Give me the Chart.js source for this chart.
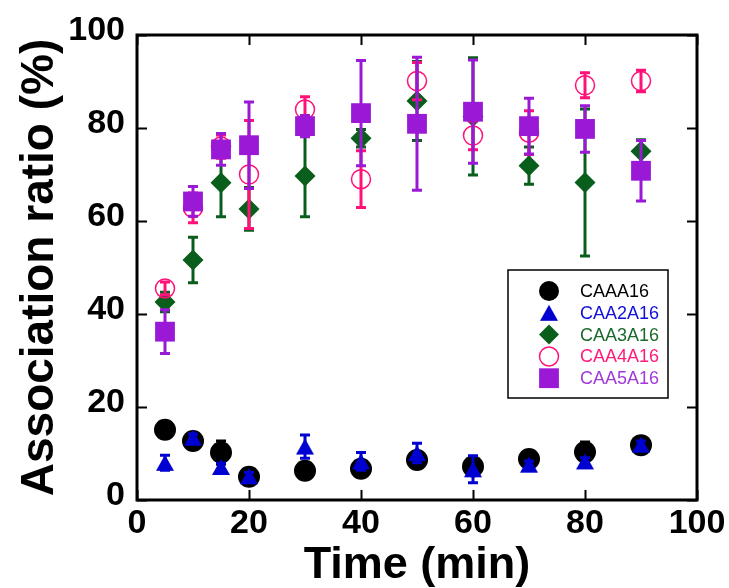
<!DOCTYPE html>
<html>
<head>
<meta charset="utf-8">
<script src="https://cdn.jsdelivr.net/npm/chart.js@4.4.0/dist/chart.umd.min.js"></script>
<style>
html, body { margin: 0; padding: 0; background: #fff; }
</style>
</head>
<body>
<canvas id="myChart" width="729" height="588"></canvas>
<script>
// sampling times (min)
var times = [5, 10, 15, 20, 30, 40, 50, 60, 70, 80, 90];

var caaa16    = [15.1, 12.7, 10.2, 5.0, 6.3, 6.7, 8.6, 7.2, 8.8, 10.3, 11.8];
var caaa16Err = [0.8, 0.8, 2.5, 0.8, 0.8, 0.8, 0.8, 0.8, 1.0, 2.2, 1.0];

var caa2a16    = [8.0, 13.4, 7.1, 5.1, 11.5, 8.3, 10.1, 6.6, 7.6, 8.3, 11.9];
var caa2a16Err = [1.6, 0.8, 0.8, 0.8, 2.5, 1.9, 2.1, 2.9, 0.8, 0.8, 0.8];

var caa3a16    = [42.6, 51.6, 68.2, 62.6, 69.7, 77.8, 85.8, 82.5, 71.9, 68.3, 75.0];
var caa3a16Err = [2.1, 4.9, 7.3, 4.6, 8.8, 1.9, 8.5, 12.6, 4.0, 15.8, 2.5];

var caa4a16    = [45.5, 62.8, 76.0, 70.0, 84.0, 69.0, 90.1, 78.4, 79.0, 89.2, 90.1];
var caa4a16Err = [1.4, 3.2, 2.5, 11.6, 2.7, 6.1, 4.0, 3.1, 4.7, 2.7, 2.3];

var caa5a16    = [36.2, 64.2, 75.4, 76.3, 80.4, 83.2, 80.9, 83.5, 80.4, 79.8, 70.8];
var caa5a16Err = [4.7, 3.2, 3.4, 9.3, 2.3, 11.3, 14.3, 11.1, 6.0, 5.0, 6.5];

var xTicks = [0, 20, 40, 60, 80, 100];
var yTicks = [0, 20, 40, 60, 80, 100];

function pts(ys) {
	return times.map(function (t, i) { return { x: t, y: ys[i] }; });
}

// triangle marker centred on its bounding box (Chart's own one sits on the centroid)
function triangleMarker(color) {
	var c = document.createElement('canvas');
	c.width = 20; c.height = 18;
	var g = c.getContext('2d');
	g.fillStyle = color;
	g.beginPath();
	g.moveTo(10, 1);
	g.lineTo(19, 17);
	g.lineTo(1, 17);
	g.closePath();
	g.fill();
	return c;
}
var blueTri = triangleMarker('#0000d0');

// error bars, drawn just under each dataset's own markers
var errorBarPlugin = {
	id: 'errorBars',
	beforeDatasetDraw: function (chart, args) {
		var ds = chart.data.datasets[args.index];
		if (!ds.errors) return;
		var ctx = chart.ctx;
		var xs = chart.scales.x, ys = chart.scales.y;
		ctx.save();
		ctx.strokeStyle = ds.errColor;
		ctx.lineWidth = 3;
		ds.data.forEach(function (p, i) {
			var e = ds.errors[i];
			var px = xs.getPixelForValue(p.x);
			var yTop = ys.getPixelForValue(p.y + e);
			var yBot = ys.getPixelForValue(p.y - e);
			ctx.beginPath();
			ctx.moveTo(px, yTop);
			ctx.lineTo(px, yBot);
			ctx.moveTo(px - 5, yTop);
			ctx.lineTo(px + 5, yTop);
			ctx.moveTo(px - 5, yBot);
			ctx.lineTo(px + 5, yBot);
			ctx.stroke();
		});
		ctx.restore();
	}
};

// frame + inward ticks on all sides
var framePlugin = {
	id: 'frame',
	afterDraw: function (chart) {
		var ctx = chart.ctx, a = chart.chartArea;
		var xs = chart.scales.x, ys = chart.scales.y;
		ctx.save();
		ctx.strokeStyle = '#000';
		ctx.lineWidth = 2;
		ctx.beginPath();
		xTicks.forEach(function (v) {
			var px = Math.round(xs.getPixelForValue(v)) + 0.5;
			ctx.moveTo(px, a.bottom); ctx.lineTo(px, a.bottom - 10);
			ctx.moveTo(px, a.top); ctx.lineTo(px, a.top + 10);
		});
		yTicks.forEach(function (v) {
			var py = Math.round(ys.getPixelForValue(v)) + 0.5;
			ctx.moveTo(a.left, py); ctx.lineTo(a.left + 10, py);
			ctx.moveTo(a.right, py); ctx.lineTo(a.right - 10, py);
		});
		ctx.stroke();
		ctx.lineWidth = 3;
		ctx.strokeRect(a.left, a.top, a.right - a.left, a.bottom - a.top);
		ctx.restore();
	}
};

// boxed legend inside the plot
var legendPlugin = {
	id: 'boxLegend',
	afterDraw: function (chart) {
		var ctx = chart.ctx;
		ctx.save();
		ctx.strokeStyle = '#000';
		ctx.lineWidth = 1.5;
		ctx.strokeRect(508, 270, 160, 128);
		ctx.font = '18px "Liberation Sans", Arial, sans-serif';
		ctx.textBaseline = 'middle';
		chart.data.datasets.forEach(function (ds, i) {
			var y = 291 + i * 21.8;
			ctx.fillStyle = ds.backgroundColor;
			ctx.strokeStyle = ds.borderColor;
			ctx.lineWidth = ds.borderWidth;
			Chart.helpers.drawPoint(ctx, {
				pointStyle: ds.pointStyle,
				radius: ds.legendRadius,
				rotation: 0,
				borderWidth: ds.borderWidth
			}, 549, y);
			ctx.fillStyle = ds.textColor;
			ctx.fillText(ds.label, 580, y + 1);
		});
		ctx.restore();
	}
};

var ctx = document.getElementById('myChart');
var myChart = new Chart(ctx, {
	type: 'scatter',
	data: {
		datasets: [{
			label: 'CAAA16',
			data: pts(caaa16), errors: caaa16Err, errColor: '#000000',
			pointStyle: 'circle', pointRadius: 11, legendRadius: 10,
			backgroundColor: '#000000', borderColor: '#000000', borderWidth: 0,
			textColor: '#000000', order: 4
		}, {
			label: 'CAA2A16',
			data: pts(caa2a16), errors: caa2a16Err, errColor: '#0000d0',
			pointStyle: blueTri, pointRadius: 10, legendRadius: 10,
			backgroundColor: '#0000d0', borderColor: '#0000d0', borderWidth: 0,
			textColor: '#1010d8', order: 3
		}, {
			label: 'CAA3A16',
			data: pts(caa3a16), errors: caa3a16Err, errColor: '#0a5e1c',
			pointStyle: 'rectRot', pointRadius: 10.5, legendRadius: 10,
			backgroundColor: '#0a5e1c', borderColor: '#0a5e1c', borderWidth: 0,
			textColor: '#1a6b2b', order: 2
		}, {
			label: 'CAA4A16',
			data: pts(caa4a16), errors: caa4a16Err, errColor: '#ff1177',
			pointStyle: 'circle', pointRadius: 9.5, legendRadius: 9.5,
			backgroundColor: 'rgba(0,0,0,0)', borderColor: '#ff1177', borderWidth: 1.5,
			textColor: '#ff1a7a', order: 1
		}, {
			label: 'CAA5A16',
			data: pts(caa5a16), errors: caa5a16Err, errColor: '#9a19d6',
			pointStyle: 'rect', pointRadius: 14, legendRadius: 14,
			backgroundColor: '#9a19d6', borderColor: '#9a19d6', borderWidth: 0,
			textColor: '#a03ad8', order: 0
		}]
	},
	options: {
		responsive: false,
		animation: false,
		layout: { padding: { top: 35, right: 32, left: 0, bottom: 0 } },
		scales: {
			x: {
				type: 'linear', min: 0, max: 100,
				afterFit: function (s) { s.height = 88; },
				afterBuildTicks: function (s) { s.ticks = xTicks.map(function (v) { return { value: v }; }); },
				grid: { display: false, drawTicks: false },
				border: { display: false },
				ticks: {
					color: '#000', padding: 3,
					font: { family: '"Liberation Sans", Arial, sans-serif', size: 34, weight: 'bold' }
				},
				title: {
					display: true, text: 'Time (min)', color: '#000',
					padding: { top: 0, bottom: -5 },
					font: { family: '"Liberation Sans", Arial, sans-serif', size: 45, weight: 'bold' }
				}
			},
			y: {
				type: 'linear', min: 0, max: 100,
				afterFit: function (s) { s.width = 137; },
				afterBuildTicks: function (s) { s.ticks = yTicks.map(function (v) { return { value: v }; }); },
				grid: { display: false, drawTicks: false },
				border: { display: false },
				ticks: {
					color: '#000', padding: 12, labelOffset: -4,
					font: { family: '"Liberation Sans", Arial, sans-serif', size: 34, weight: 'bold' }
				},
				title: {
					display: true, text: 'Association ratio (%)', color: '#000',
					padding: { top: 13, bottom: 0 },
					font: { family: '"Liberation Sans", Arial, sans-serif', size: 46, weight: 'bold' }
				}
			}
		},
		plugins: {
			legend: { display: false },
			tooltip: { enabled: false }
		}
	},
	plugins: [errorBarPlugin, framePlugin, legendPlugin]
});
</script>
</body>
</html>
